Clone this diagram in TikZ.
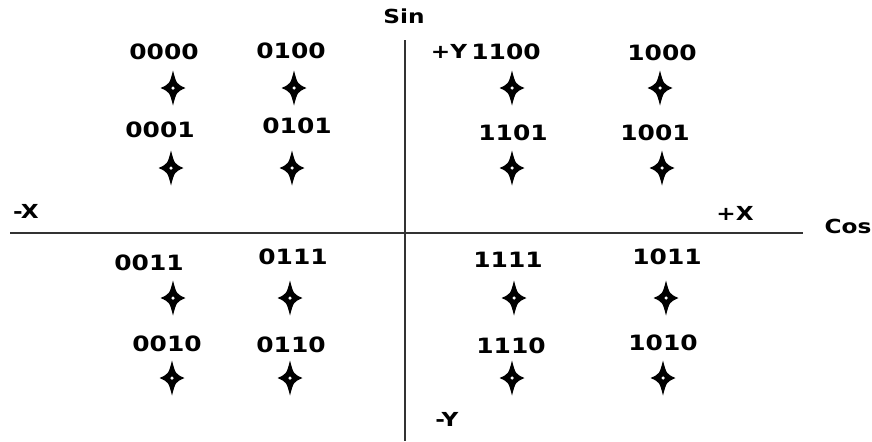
\documentclass[tikz,border=0pt]{standalone}
\usepackage{fontspec}
\setmainfont{DejaVu Sans}
\newfontfamily\codefont[FakeStretch=1.18]{DejaVu Sans Bold}
\newfontfamily\axfont[FakeStretch=1.2]{DejaVu Sans Bold}
\usetikzlibrary{positioning}

\begin{document}
\begin{tikzpicture}[
    code/.style={font=\codefont\fontsize{12}{14}\selectfont, inner sep=0pt},
    axlbl/.style={font=\axfont\fontsize{11}{13}\selectfont, inner sep=0pt},
    axis/.style={line width=1.1pt, black!80},
    cstar/.pic={
      \fill[black] (0,0.35) .. controls (0.07,0.08) .. (0.25,0)
        .. controls (0.07,-0.08) .. (0,-0.35)
        .. controls (-0.07,-0.08) .. (-0.25,0)
        .. controls (-0.07,0.08) .. cycle;
      \fill[white] (0,0) circle (0.035);
    }]

  \useasboundingbox (0,0) rectangle (17.44,8.82);

  %% axes
  \coordinate (xl) at (0.2,4.16);
  \coordinate (xr) at (16.06,4.16);
  \coordinate (yt) at (8.1,8.02);
  \coordinate (yb) at (8.1,0);
  \draw[axis] (xl) -- (xr);
  \draw[axis] (yt) -- (yb);

  \node[axlbl] (sin) at (8.08,8.5) {Sin};
  \node[axlbl] (cos) at (16.96,4.3) {Cos};
  \node[axlbl] (mx) at (0.52,4.6) {-X};
  \node[axlbl] (px) at (14.7,4.56) {+X};
  \node[axlbl] (py) at (8.98,7.8) {+Y};
  \node[axlbl] (my) at (8.94,0.44) {-Y};

  %% symbol codes (label x, label y, star x, star y)
  \foreach \lx/\ly/\sx/\sy/\lbl in {
      3.28/7.78/3.46/7.06/0000, 5.82/7.8/5.88/7.06/0100,
      10.12/7.78/10.24/7.06/1100, 13.24/7.76/13.2/7.06/1000,
      3.2/6.22/3.42/5.46/0001, 5.94/6.3/5.84/5.46/0101,
      10.26/6.16/10.24/5.46/1101, 13.1/6.16/13.24/5.46/1001,
      2.98/3.56/3.46/2.86/0011, 5.86/3.68/5.8/2.86/0111,
      10.16/3.62/10.28/2.86/1111, 13.34/3.68/13.32/2.86/1011,
      3.34/1.94/3.44/1.26/0010, 5.82/1.92/5.8/1.26/0110,
      10.22/1.9/10.24/1.26/1110, 13.26/1.96/13.26/1.26/1010}{
    \node[code] (l\lbl) at (\lx,\ly) {\lbl};
    \coordinate (s\lbl) at (\sx,\sy);
    \pic at (s\lbl) {cstar};
  }

\end{tikzpicture}
\end{document}
